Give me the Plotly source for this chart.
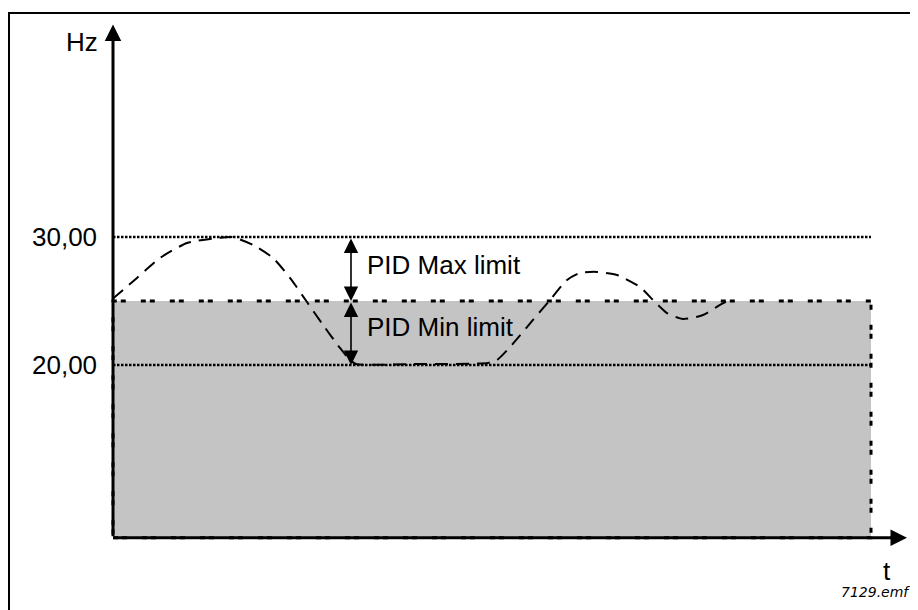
import plotly.graph_objects as go

# ---- data ----
t_vals = [0, 2.4, 4.7, 7.4, 10.4, 11.9, 14.0, 16.0, 17.7, 19.4, 21.0, 22.7, 23.7, 24.3,
          30.7, 37.5, 38.4, 39.7, 42.0, 43.7, 45.4, 46.7, 48.4, 50.4, 52.7, 54.0,
          55.4, 57.0, 59.0, 60.7, 61.7]
hz_vals = [25.2, 26.8, 28.36, 29.53, 29.92, 30.0, 29.38, 28.36, 26.8, 24.92, 23.13, 21.33, 20.39, 20.08,
           20.08, 20.16, 20.39, 21.4, 23.52, 25.08, 26.64, 27.19, 27.27, 27.03, 26.09, 25.08,
           24.06, 23.59, 23.91, 24.69, 25.08]
level_values = [30, 20]
level_labels = ["30,00", "20,00"]
setpoint = 25
t_end = 75.8
t_axis_end = 79.4
hz_base = 6.5
hz_axis_top = 46.6
limit_labels = ["PID Max limit", "PID Min limit"]

FONT = "Liberation Sans, Arial, sans-serif"

fig = go.Figure()
fig.add_trace(go.Scatter(
    x=t_vals, y=hz_vals, mode="lines",
    line=dict(color="black", width=2, dash="13px,8px", shape="spline", smoothing=0.6),
    showlegend=False, hoverinfo="skip"))

shapes = []
# grey band
shapes.append(dict(type="rect", xref="x", yref="y", x0=0, x1=t_end, y0=hz_base, y1=setpoint,
                   fillcolor="#C4C4C4", line=dict(color="black", width=3, dash="5px,4px,5px,15px"),
                   layer="below"))
# dotted level lines
for v in level_values:
    shapes.append(dict(type="line", xref="x", yref="y", x0=0, x1=t_end, y0=v, y1=v,
                       line=dict(color="black", width=2.5, dash="2.5px,1.5px"), layer="below"))
# outer frame
shapes.append(dict(type="rect", xref="paper", yref="paper", x0=1/918, x1=1.05,
                   y0=-0.05, y1=1 - 5/610, line=dict(color="black", width=2),
                   fillcolor="rgba(0,0,0,0)"))

annotations = []
# axes arrows
annotations.append(dict(x=0, y=hz_axis_top, ax=0, ay=hz_base, xref="x", yref="y",
                        axref="x", ayref="y", text="", showarrow=True, arrowhead=2,
                        arrowsize=1.1, arrowwidth=3, arrowcolor="black", standoff=0))
annotations.append(dict(x=t_axis_end, y=hz_base, ax=-0.1, ay=hz_base, xref="x", yref="y",
                        axref="x", ayref="y", text="", showarrow=True, arrowhead=2,
                        arrowsize=1.1, arrowwidth=3, arrowcolor="black", standoff=0))
# double arrows for limits
arrow_x = 23.8
for (top, bot) in [(level_values[0], setpoint), (setpoint, level_values[1])]:
    annotations.append(dict(x=arrow_x, y=bot, ax=arrow_x, ay=top, xref="x", yref="y",
                            axref="x", ayref="y", text="", showarrow=True,
                            arrowhead=2, startarrowhead=2, arrowside="end+start",
                            arrowsize=1.8, startarrowsize=1.8, arrowwidth=1.6,
                            arrowcolor="black", standoff=0, startstandoff=0))
# limit labels
annotations.append(dict(x=25.2, y=27.8, xref="x", yref="y", text=limit_labels[0],
                        showarrow=False, xanchor="left", yanchor="middle",
                        font=dict(family=FONT, size=26, color="black")))
annotations.append(dict(x=25.2, y=22.97, xref="x", yref="y", text=limit_labels[1],
                        showarrow=False, xanchor="left", yanchor="middle",
                        font=dict(family=FONT, size=26, color="black")))
# level tick labels
for v, lab in zip(level_values, level_labels):
    annotations.append(dict(x=-1.4, y=v, xref="x", yref="y", text=lab, showarrow=False,
                            xanchor="right", yanchor="middle",
                            font=dict(family=FONT, size=26, color="black")))
# axis titles
annotations.append(dict(x=-1.3, y=45.2, xref="x", yref="y", text="Hz", showarrow=False,
                        xanchor="right", yanchor="middle",
                        font=dict(family=FONT, size=26, color="black")))
annotations.append(dict(x=77.4, y=3.9, xref="x", yref="y", text="t", showarrow=False,
                        xanchor="center", yanchor="middle",
                        font=dict(family=FONT, size=26, color="black")))
annotations.append(dict(x=79.9, y=2.27, xref="x", yref="y", text="<i>7129.emf</i>",
                        showarrow=False, xanchor="right", yanchor="middle",
                        font=dict(family="DejaVu Sans, Verdana, sans-serif", size=14, color="black")))

fig.update_layout(
    width=918, height=610,
    margin=dict(l=0, r=0, t=0, b=0),
    paper_bgcolor="white", plot_bgcolor="white",
    xaxis=dict(range=[-10.5, 81.3], visible=False, fixedrange=True),
    yaxis=dict(range=[0.234, 47.89], visible=False, fixedrange=True),
    shapes=shapes, annotations=annotations, showlegend=False,
)

fig.write_html("out.html")
